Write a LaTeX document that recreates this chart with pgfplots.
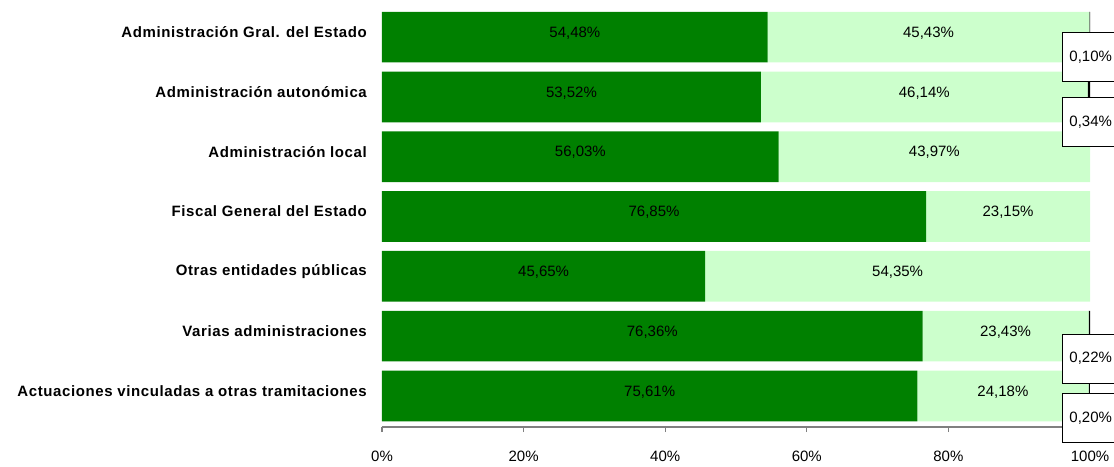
\documentclass[border=0pt]{standalone}
\usepackage{fontspec}
\setmainfont{Liberation Sans}
\usepackage{pgfplots}
\usepackage{pgfplotstable}
\pgfplotsset{compat=1.18}
\definecolor{darkg}{RGB}{0,128,0}
\definecolor{lightg}{RGB}{204,255,204}
\pgfplotstableread{
y a b c
6 54.48 45.43 0.10
5 53.52 46.14 0.34
4 56.03 43.97 0
3 76.85 23.15 0
2 45.65 54.35 0
1 76.36 23.43 0.22
0 75.61 24.18 0.20
}\data
\pgfplotstableread{
lx ly c
100.1 5.666 0.10
100.1 4.582 0.34
100.1 0.624 0.22
100.1 -0.376 0.20
}\boxdata
\pgfplotsset{base/.style={scale only axis, width=708pt, height=421pt,
  xmin=0, xmax=100, ymin=-0.52, ymax=6.52,
  at={(382pt,-427pt)}, anchor=south west}}
\newcommand{\fnt}{\fontsize{15}{18}\selectfont}
\newcommand{\cfnt}{\fontsize{15}{18}\selectfont\bfseries\addfontfeature{LetterSpace=4}}
\begin{document}
\begin{tikzpicture}
\path[use as bounding box] (0,0) rectangle (1114pt,-466pt);
\begin{axis}[base, xbar stacked, bar width=50.7pt,
  axis x line*=bottom, axis y line*=left,
  x axis line style={-, draw=gray, line width=1.2pt},
  y axis line style={draw=none},
  xtick={0,20,...,100}, xticklabel={\pgfmathprintnumber{\tick}\%},
  ytick={0,...,6},
  yticklabels={Actuaciones vinculadas a otras tramitaciones, Varias administraciones, Otras entidades públicas, Fiscal General del Estado, Administración local, Administración autonómica, Administración Gral. del Estado},
  tick align=outside, major tick length=5pt,
  xtick style={gray, line width=1.2pt}, ytick style={draw=none},
  xticklabel style={font=\fnt, inner sep=0pt, yshift=-19pt},
  yticklabel style={font=\cfnt, inner sep=0pt, xshift=-10pt, yshift=5pt},
  /pgf/number format/assume math mode=true,
  clip=false]
\addplot[fill=darkg, draw=none] table[x=a, y=y]{\data};
\addplot[fill=lightg, draw=none] table[x=b, y=y]{\data};
\addplot[fill=black, draw=none] table[x=c, y=y]{\data};
\end{axis}
\begin{axis}[base, hide axis, clip=false,
  /pgf/number format/.cd, fixed, fixed zerofill, precision=2, use comma, assume math mode=true]
\addplot[draw=none, mark=none, nodes near coords={\pgfmathprintnumber{\pgfplotspointmeta}\%},
  point meta=\thisrow{a},
  every node near coord/.append style={anchor=center, font=\fnt, yshift=4pt}]
  table[x expr=\thisrow{a}/2, y=y]{\data};
\addplot[draw=none, mark=none, nodes near coords={\pgfmathprintnumber{\pgfplotspointmeta}\%},
  point meta=\thisrow{b},
  every node near coord/.append style={anchor=center, font=\fnt, yshift=4pt}]
  table[x expr=\thisrow{a}+\thisrow{b}/2, y=y]{\data};
\addplot[draw=none, mark=none, nodes near coords={\pgfmathprintnumber{\pgfplotspointmeta}\%},
  point meta=\thisrow{c},
  every node near coord/.append style={anchor=center, font=\fnt, draw=black, fill=white, line width=1pt, minimum width=56pt, minimum height=49pt}]
  table[x=lx, y=ly]{\boxdata};
\end{axis}
\end{tikzpicture}
\end{document}
